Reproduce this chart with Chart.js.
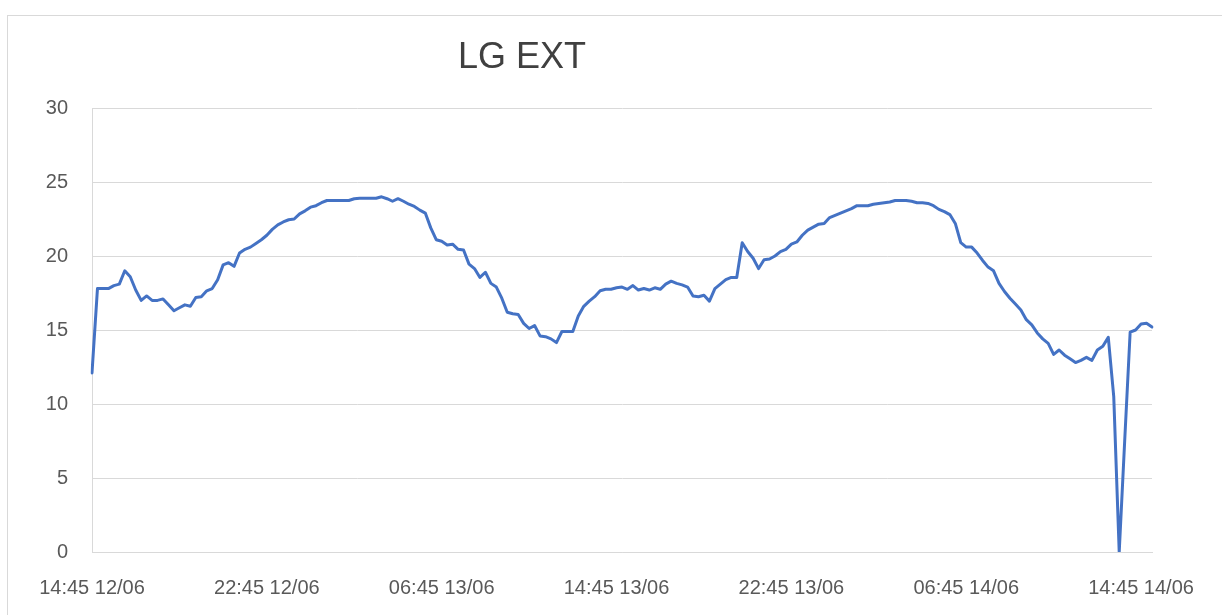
<!DOCTYPE html>
<html>
<head>
<meta charset="utf-8">
<title>LG EXT</title>
<script src="https://cdn.jsdelivr.net/npm/chart.js@4.4.0/dist/chart.umd.min.js"></script>
<style>
  html, body { margin: 0; padding: 0; background: #fff; }
  #wrap { width: 1222px; height: 615px; position: relative; }
</style>
</head>
<body>
<div id="wrap"><canvas id="grafico"></canvas></div>
<script>
// LG EXT, one reading every 15 minutes, 14:45 12/06 -> 15:15 14/06
const tickLabels = ["14:45 12/06", "22:45 12/06", "06:45 13/06", "14:45 13/06", "22:45 13/06", "06:45 14/06", "14:45 14/06"];
const pointsPerTick = 32; // 8 hours of 15 min readings

const temps = [
  // 14:45 12/06
  12.1, 17.8, 17.8, 17.8, 18.0, 18.1, 19.0, 18.6, 17.7, 17.0, 17.3, 17.0, 17.0, 17.1, 16.7, 16.3,
  16.5, 16.7, 16.6, 17.2, 17.25, 17.65, 17.8, 18.4, 19.4, 19.55, 19.3, 20.2, 20.45, 20.6, 20.85, 21.1,
  // 22:45 12/06
  21.4, 21.8, 22.1, 22.3, 22.45, 22.5, 22.85, 23.05, 23.3, 23.4, 23.6, 23.75, 23.75, 23.75, 23.75, 23.75,
  23.87, 23.9, 23.9, 23.9, 23.9, 24.0, 23.87, 23.7, 23.87, 23.7, 23.5, 23.35, 23.1, 22.9, 21.9, 21.1,
  // 06:45 13/06
  21.0, 20.75, 20.8, 20.45, 20.4, 19.45, 19.15, 18.55, 18.9, 18.15, 17.9, 17.15, 16.2, 16.1, 16.05, 15.45,
  15.1, 15.3, 14.6, 14.55, 14.4, 14.15, 14.9, 14.9, 14.9, 15.95, 16.6, 16.95, 17.25, 17.65, 17.75, 17.75,
  // 14:45 13/06
  17.85, 17.9, 17.75, 18.0, 17.7, 17.8, 17.7, 17.85, 17.75, 18.1, 18.3, 18.15, 18.05, 17.9, 17.3, 17.25,
  17.35, 16.95, 17.8, 18.1, 18.4, 18.55, 18.55, 20.9, 20.3, 19.85, 19.15, 19.75, 19.8, 20.0, 20.3, 20.45,
  // 22:45 13/06
  20.8, 20.95, 21.4, 21.75, 21.95, 22.15, 22.2, 22.6, 22.75, 22.9, 23.05, 23.2, 23.4, 23.4, 23.4, 23.5,
  23.55, 23.6, 23.65, 23.75, 23.75, 23.75, 23.7, 23.6, 23.6, 23.55, 23.4, 23.15, 23.0, 22.8, 22.2, 20.9,
  // 06:45 14/06
  20.6, 20.6, 20.2, 19.7, 19.25, 19.0, 18.15, 17.6, 17.15, 16.75, 16.35, 15.7, 15.35, 14.8, 14.4, 14.1,
  13.35, 13.65, 13.3, 13.05, 12.8, 12.95, 13.15, 12.95, 13.65, 13.9, 14.5, 10.5, 0, 7.5, 14.85, 15.0,
  // 14:45 14/06
  15.4, 15.45, 15.2
];

const yTicks = [0, 5, 10, 15, 20, 25, 30];

const textColor = "#595959";
const gridColor = "#d9d9d9";

// Excel-like frame + title (title is off-centre in the original)
const frameAndTitle = {
  id: "frameAndTitle",
  beforeDraw(chart) {
    const ctx = chart.ctx;
    ctx.save();
    ctx.strokeStyle = gridColor;
    ctx.lineWidth = 1;
    ctx.strokeRect(7.5, 15.5, 1400, 800);
    ctx.restore();
  },
  afterDraw(chart) {
    const ctx = chart.ctx;
    ctx.save();
    ctx.fillStyle = "#404040";
    ctx.font = "36px 'Liberation Sans', Arial, sans-serif";
    ctx.textAlign = "center";
    ctx.textBaseline = "middle";
    ctx.fillText("LG EXT", 522, 58);
    ctx.restore();
  }
};

const ctx = document.getElementById("grafico");

new Chart(ctx, {
  type: "line",
  data: {
    labels: temps.map((_, i) => i),
    datasets: [
      {
        label: "LG EXT",
        data: temps,
        borderColor: "#4472C4",
        backgroundColor: "#4472C4",
        borderWidth: 3,
        pointRadius: 0,
        tension: 0,
        borderJoinStyle: "round",
        borderCapStyle: "round",
      },
    ],
  },
  options: {
    responsive: true,
    maintainAspectRatio: false,
    animation: false,
    layout: {
      padding: { left: 40, right: 70, top: 108, bottom: 13 },
    },
    plugins: {
      legend: { display: false },
      title: { display: false },
      tooltip: { enabled: false },
    },
    scales: {
      x: {
        type: "category",
        offset: false,
        grid: { display: false, drawTicks: false },
        border: { display: true, color: gridColor, width: 1 },
        ticks: {
          autoSkip: false,
          maxRotation: 0,
          minRotation: 0,
          padding: 24,
          color: textColor,
          font: { family: "'Liberation Sans', Arial, sans-serif", size: 20 },
          callback: (value, index) =>
            index % pointsPerTick === 0 ? tickLabels[index / pointsPerTick] : null,
        },
        afterFit: (scale) => { scale.height = 50; },
      },
      y: {
        min: 0,
        max: 30,
        afterBuildTicks: (scale) => { scale.ticks = yTicks.map((v) => ({ value: v })); },
        grid: { color: gridColor, lineWidth: 1, drawTicks: false },
        border: { display: true, color: gridColor, width: 1 },
        ticks: {
          padding: 24,
          color: textColor,
          font: { family: "'Liberation Sans', Arial, sans-serif", size: 20 },
        },
        afterFit: (scale) => { scale.width = 52; },
      },
    },
  },
  plugins: [frameAndTitle],
});
</script>
</body>
</html>
